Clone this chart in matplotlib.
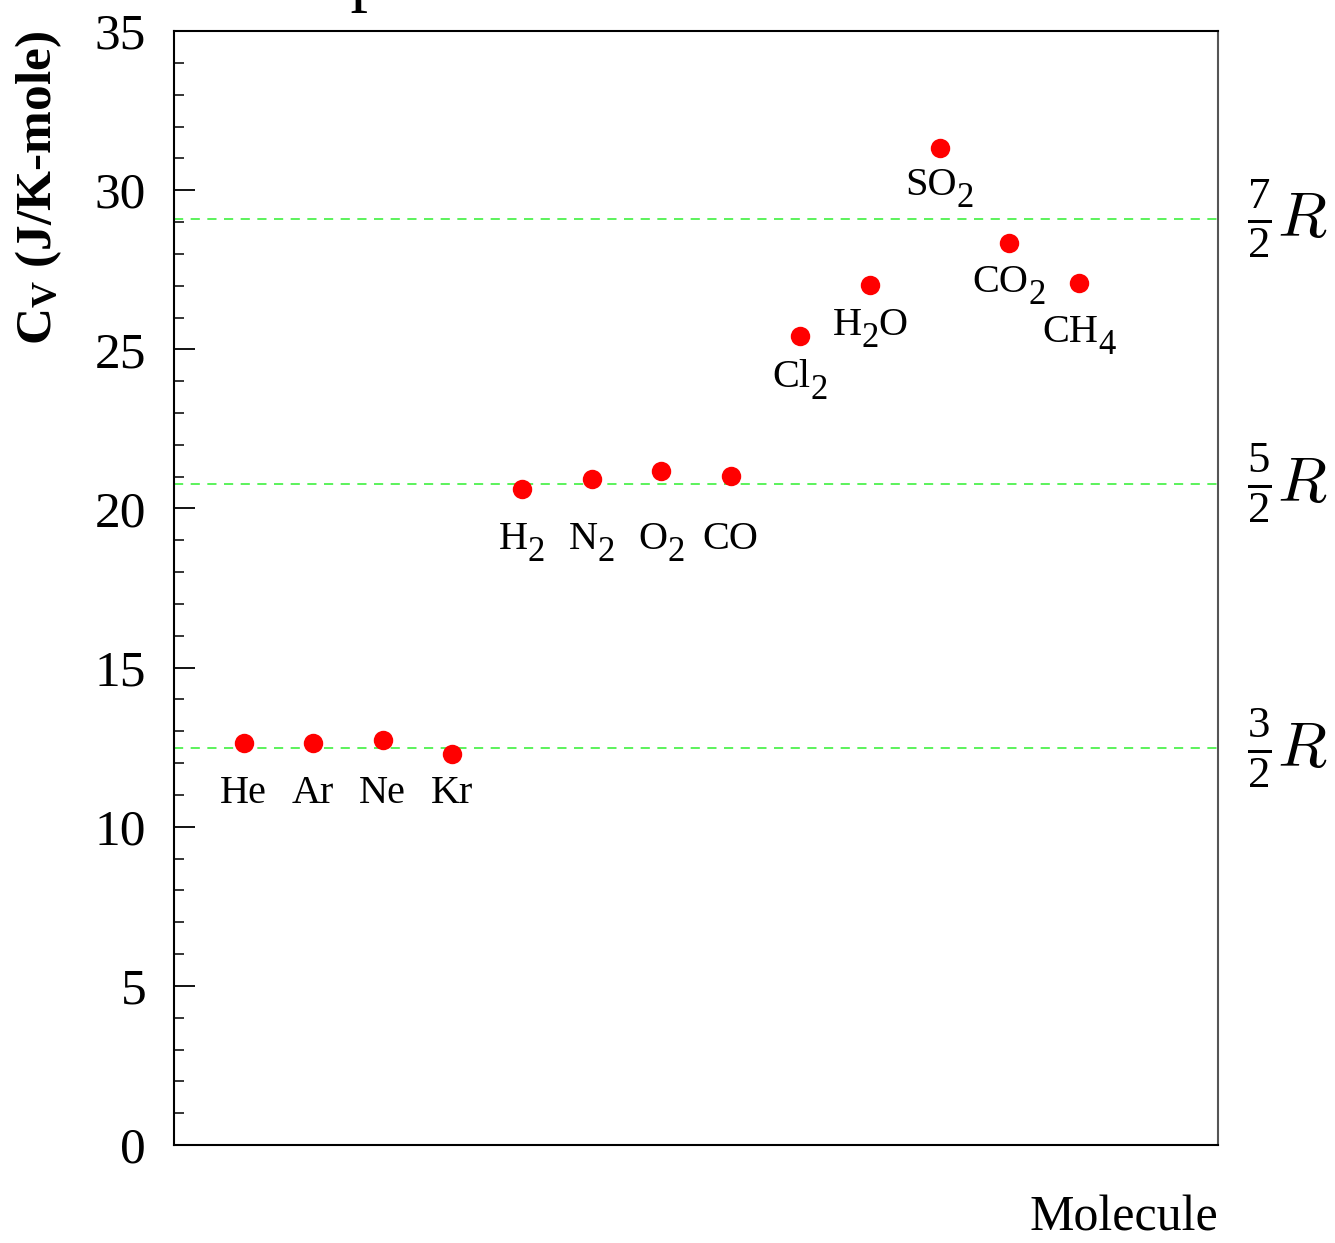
import matplotlib
matplotlib.use("Agg")
import matplotlib.pyplot as plt
from matplotlib.ticker import MultipleLocator
from matplotlib.transforms import offset_copy

plt.rcParams['font.family'] = ['Liberation Serif', 'DejaVu Serif']
plt.rcParams['mathtext.fontset'] = 'custom'
plt.rcParams['mathtext.rm'] = 'Liberation Serif'
plt.rcParams['mathtext.it'] = 'Liberation Serif:italic'
plt.rcParams['mathtext.bf'] = 'Liberation Serif:bold'
plt.rcParams['mathtext.default'] = 'regular'

# molecules and their C_V in J/K-mole
# "_" marks the following digit as a subscript
molecules = ['He', 'Ar', 'Ne', 'Kr', 'H_2', 'N_2', 'O_2', 'CO',
             'Cl_2', 'H_2O', 'SO_2', 'CO_2', 'CH_4']
cv = [12.63, 12.63, 12.72, 12.28, 20.61, 20.92, 21.17, 21.02,
      25.42, 27.02, 31.32, 28.34, 27.08]
# baseline of each text label, in data units
label_y = [10.74, 10.74, 10.74, 10.74, 18.72, 18.72, 18.72, 18.72,
           23.81, 25.45, 29.85, 26.80, 25.23]

R = 8.314
ref_levels = [1.5 * R, 2.5 * R, 3.5 * R]
ref_labels = [r'$\frac{3}{2}\mathit{R}$', r'$\frac{5}{2}\mathit{R}$',
              r'$\frac{7}{2}\mathit{R}$']

fig = plt.figure(figsize=(13.35, 12.43), dpi=100)
ax = fig.add_axes([0.1303, 0.0788, 0.7821, 0.8962])

xs = list(range(1, len(molecules) + 1))

for lev, lab in zip(ref_levels, ref_labels):
    ln, = ax.plot([0, 15], [lev, lev], color='#3ff03f', lw=1.2)
    ln.set_dashes((5.5, 4.5))
    ax.text(15.42, lev, lab, fontsize=46, va='center', ha='left',
            math_fontfamily='cm', clip_on=False)

ax.plot(xs, cv, 'o', color='red', markersize=14, markeredgewidth=0)

ax.set_xlim(0, 15)
ax.set_ylim(0, 35)

# labels with big, well dropped subscripts (ROOT TLatex look)
renderer = fig.canvas.get_renderer()
main_fs, sub_fs, sub_drop = 29, 25, 12
for x, yl, name in zip(xs, label_y, molecules):
    parts = []
    i = 0
    while i < len(name):
        if name[i] == '_':
            parts.append((name[i + 1], True))
            i += 2
        else:
            j = i
            while j < len(name) and name[j] != '_':
                j += 1
            parts.append((name[i:j], False))
            i = j
    widths = []
    for txt, sub in parts:
        t = ax.text(0, 0, txt, fontsize=sub_fs if sub else main_fs)
        widths.append(t.get_window_extent(renderer).width)
        t.remove()
    dx = -sum(widths) / 2
    for (txt, sub), w in zip(parts, widths):
        tr = offset_copy(ax.transData, fig=fig, x=dx,
                         y=-sub_drop if sub else 0, units='dots')
        ax.text(x, yl, txt, fontsize=sub_fs if sub else main_fs,
                ha='left', va='baseline', transform=tr)
        dx += w

ax.set_xticks([])
ax.yaxis.set_major_locator(MultipleLocator(5))
ax.yaxis.set_minor_locator(MultipleLocator(1))
ax.tick_params(axis='y', which='major', direction='in', length=15, width=1.3,
               labelsize=37, pad=20)
ax.tick_params(axis='y', which='minor', direction='in', length=7.5, width=1.1)

for s in ['left', 'bottom', 'top']:
    ax.spines[s].set_linewidth(1.5)
ax.spines['right'].set_linewidth(1.5)
ax.spines['right'].set_color('#555555')

ax.set_ylabel(r'C$_V$ (J/K-mole)', fontsize=37, fontweight='bold', loc='top',
              labelpad=22)
ax.set_xlabel('Molecule', fontsize=36, loc='right', labelpad=36)

# title sits almost completely above the canvas, only a descender shows
fig.text(0.234, 1.0016, 'Specific Heats of Gases', fontsize=50, ha='left',
         va='baseline')

fig.savefig('out.png', dpi=100)
